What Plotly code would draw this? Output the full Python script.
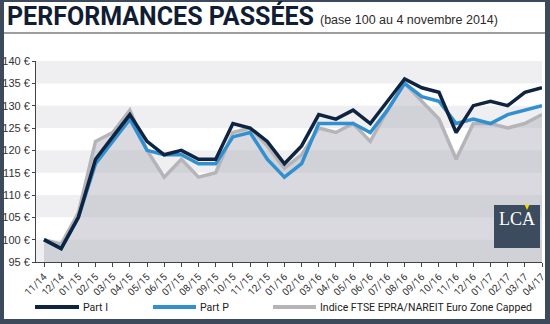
import plotly.graph_objects as go

# Monthly observations, base 100 on 4 November 2014
months = ["11/14", "12/14", "01/15", "02/15", "03/15", "04/15", "05/15", "06/15",
          "07/15", "08/15", "09/15", "10/15", "11/15", "12/15", "01/16", "02/16",
          "03/16", "04/16", "05/16", "06/16", "07/16", "08/16", "09/16", "10/16",
          "11/16", "12/16", "01/17", "02/17", "03/17", "04/17"]

part_i = [100, 98, 105, 118, 123, 128, 122, 119, 120, 118, 118, 126, 125, 122, 117,
          121, 128, 127, 129, 126, 131, 136, 134, 133, 124, 130, 131, 130, 133, 134]

part_p = [100, 98, 105, 117, 122, 127, 120, 119, 119, 117, 117, 123, 124, 118, 114,
          117, 126, 126, 126, 124, 129, 135, 132, 131, 126, 127, 126, 128, 129, 130]

indice = [100, 99, 106, 122, 124, 129, 120, 114, 118, 114, 115, 124, 125, 121, 116,
          119, 125, 124, 126, 122, 129, 135, 131, 127, 118, 126, 126, 125, 126, 128]

series_names = ["Part I", "Part P", "Indice FTSE EPRA/NAREIT Euro Zone Capped"]

y_ticks = [95, 100, 105, 110, 115, 120, 125, 130, 135, 140]
y_labels = [f"{v} €" for v in y_ticks]

NAVY = "#0e2440"
BLUE = "#3290d0"
GREY = "#b5b5b9"
SLATE = "#3c4a5c"

W, H = 550, 324
ML, MR, MT, MB = 36, 8, 61, 62
PW, PH = W - ML - MR, H - MT - MB


def px(x):
    return (x - ML) / PW


def py(y):
    return (H - MB - y) / PH


fig = go.Figure()

fig.add_trace(go.Scatter(
    x=months, y=indice, mode="lines", name=series_names[2],
    line=dict(color=GREY, width=3.5), fill="tozeroy", fillcolor="rgba(182,182,194,0.52)",
))
fig.add_trace(go.Scatter(
    x=months, y=part_p, mode="lines", name=series_names[1],
    line=dict(color=BLUE, width=3.5),
))
fig.add_trace(go.Scatter(
    x=months, y=part_i, mode="lines", name=series_names[0],
    line=dict(color=NAVY, width=3.5),
))

shapes = []
# white card on the slate frame
shapes.append(dict(type="rect", xref="paper", yref="paper", layer="below",
                   x0=px(4), x1=px(545), y0=py(319), y1=py(2),
                   fillcolor="white", line=dict(width=0)))
# alternating horizontal bands
for lo in range(95, 140, 10):
    shapes.append(dict(type="rect", xref="paper", yref="y", layer="below",
                       x0=0, x1=1, y0=lo, y1=lo + 5,
                       fillcolor="#efeff1", line=dict(width=0)))
shapes.append(dict(type="rect", xref="paper", yref="y", layer="below",
                   x0=0, x1=1, y0=135, y1=140,
                   fillcolor="#efeff1", line=dict(width=0)))
# rule under the heading
shapes.append(dict(type="line", xref="paper", yref="paper",
                   x0=px(4), x1=px(545), y0=py(33), y1=py(33),
                   line=dict(color="#9c9ea2", width=2)))
# LCA badge
shapes.append(dict(type="rect", xref="paper", yref="paper", layer="above",
                   x0=px(494), x1=px(540), y0=py(248), y1=py(205),
                   fillcolor="#3d4b5f", line=dict(width=0)))
shapes.append(dict(type="path", xref="paper", yref="paper", layer="above",
                   path=f"M{px(524.5)},{py(204.5)} L{px(529.5)},{py(204.5)} L{px(527)},{py(210)} Z",
                   fillcolor="#f2dd00", line=dict(width=0)))

annotations = [
    dict(text="<b>PERFORMANCES PASSÉES</b>", xref="paper", yref="paper",
         x=px(5), y=py(16), xanchor="left", yanchor="middle", showarrow=False,
         font=dict(family="Roboto, Arial, sans-serif", size=25, color="#101d33")),
    dict(text="(base 100 au 4 novembre 2014)", xref="paper", yref="paper",
         x=px(318), y=py(20), xanchor="left", yanchor="middle", showarrow=False,
         font=dict(family="Liberation Sans, Arial, sans-serif", size=12.5, color="#2b2b2b")),
    dict(text="LCA", xref="paper", yref="paper",
         x=px(517), y=py(219), xanchor="center", yanchor="middle", showarrow=False,
         font=dict(family="Liberation Serif, Times New Roman, serif", size=18, color="white")),
]

# legend row: swatch line + label for each series
legend_row = [(series_names[0], NAVY, 35, 79),
              (series_names[1], BLUE, 153, 196),
              (series_names[2], GREY, 273, 316)]
LEG_Y = 307
for label, colour, x0, x1 in legend_row:
    shapes.append(dict(type="line", xref="paper", yref="paper",
                       x0=px(x0), x1=px(x1), y0=py(LEG_Y), y1=py(LEG_Y),
                       line=dict(color=colour, width=4)))
    annotations.append(dict(text=label, xref="paper", yref="paper",
                            x=px(x1 + 2), y=py(LEG_Y), xanchor="left", yanchor="middle",
                            showarrow=False,
                            font=dict(family="Roboto, Arial, sans-serif", size=10.5,
                                      color="#222")))

fig.update_layout(
    width=W, height=H,
    margin=dict(l=ML, r=MR, t=MT, b=MB, autoexpand=False),
    paper_bgcolor=SLATE,
    plot_bgcolor="white",
    shapes=shapes,
    annotations=annotations,
    showlegend=False,
    xaxis=dict(
        type="category", range=[-0.466, 29.0], showgrid=False, zeroline=False,
        showline=True, linecolor="#444", linewidth=1,
        ticks="outside", ticklen=4, tickcolor="#444", tickangle=-45,
        tickfont=dict(family="Roboto, Arial, sans-serif", size=10, color="#333"),
    ),
    yaxis=dict(
        range=[95, 140], tickvals=y_ticks, ticktext=y_labels,
        showgrid=False, zeroline=False, showline=True, linecolor="#444", linewidth=1,
        ticks="outside", ticklen=3, tickcolor="#444",
        tickfont=dict(family="Liberation Sans, Arial, sans-serif", size=11, color="#333"),
    ),
)

fig.write_html("out.html")
